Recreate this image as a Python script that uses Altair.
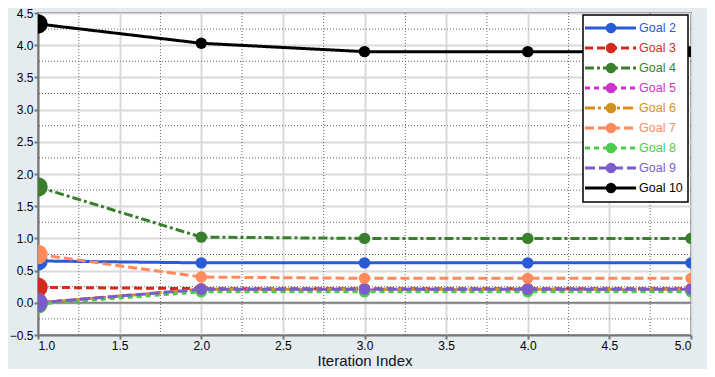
import altair as alt
import pandas as pd

iterations = [1, 2, 3, 4, 5]
names = ["Goal 2", "Goal 3", "Goal 4", "Goal 5", "Goal 6", "Goal 7", "Goal 8", "Goal 9", "Goal 10"]
goal2 = [0.65, 0.62, 0.62, 0.62, 0.62]
goal3 = [0.24, 0.22, 0.22, 0.22, 0.22]
goal4 = [1.80, 1.02, 1.00, 1.00, 1.00]
goal5 = [0.00, 0.20, 0.20, 0.20, 0.20]
goal6 = [0.00, 0.21, 0.21, 0.21, 0.21]
goal7 = [0.75, 0.40, 0.38, 0.38, 0.38]
goal8 = [-0.02, 0.17, 0.17, 0.17, 0.17]
goal9 = [0.00, 0.21, 0.21, 0.21, 0.21]
goal10 = [4.33, 4.03, 3.90, 3.90, 3.90]
series_values = [goal2, goal3, goal4, goal5, goal6, goal7, goal8, goal9, goal10]

colors = ["#2A5BD7", "#D42A1E", "#3A7F2E", "#CC33CC", "#D4901C", "#FF8A5C", "#4CCC4C", "#7B5CCB", "#000000"]
dashes = [[1, 0], [8, 4], [9, 3, 3, 3], [5, 4], [10, 3, 3, 3], [9, 4], [5, 4], [10, 4], [1, 0]]

x_ticks = [1.0, 1.5, 2.0, 2.5, 3.0, 3.5, 4.0, 4.5, 5.0]
y_ticks = [-0.5, 0.0, 0.5, 1.0, 1.5, 2.0, 2.5, 3.0, 3.5, 4.0, 4.5]
x_minor = [1.25, 1.75, 2.25, 2.75, 3.25, 3.75, 4.25, 4.75]
y_minor = [-0.25, 0.25, 0.75, 1.25, 1.75, 2.25, 2.75, 3.25, 3.75, 4.25]
zero_line = [0.0]

rows = []
for name, vals in zip(names, series_values):
    for it, v in zip(iterations, vals):
        rows.append({"series": name, "iteration": it, "value": v})
df = pd.DataFrame(rows)
legend_df = pd.DataFrame({"series": names})

FONT = "Liberation Sans"
xscale = alt.Scale(domain=[1, 5], nice=False, zero=False)
yscale = alt.Scale(domain=[-0.5, 4.5], nice=False, zero=False)
xaxis = alt.Axis(values=x_ticks, format=".1f", title="Iteration Index")
yaxis = alt.Axis(values=y_ticks, format=".1f", title=None)
cscale = alt.Scale(domain=names, range=colors)
dscale = alt.Scale(domain=names, range=dashes)

X = alt.X("iteration:Q", scale=xscale, axis=xaxis)
Y = alt.Y("value:Q", scale=yscale, axis=yaxis)

vminor = alt.Chart(pd.DataFrame({"iteration": x_minor})).mark_rule(
    color="#666666", strokeWidth=1, strokeDash=[1, 2]
).encode(x=alt.X("iteration:Q", scale=xscale, axis=xaxis))

hminor = alt.Chart(pd.DataFrame({"value": y_minor})).mark_rule(
    color="#666666", strokeWidth=1, strokeDash=[1, 2]
).encode(y=alt.Y("value:Q", scale=yscale, axis=yaxis))

zero = alt.Chart(pd.DataFrame({"value": zero_line})).mark_rule(
    color="#808080", strokeWidth=2
).encode(y=alt.Y("value:Q", scale=yscale, axis=yaxis))

lines = alt.Chart(df).mark_line(strokeWidth=3, clip=True).encode(
    x=X, y=Y,
    color=alt.Color("series:N", scale=cscale, legend=None),
    strokeDash=alt.StrokeDash("series:N", scale=dscale, legend=None),
    order=alt.Order("iteration:Q"),
)

points = alt.Chart(df).mark_point(filled=True, opacity=1, clip=True).encode(
    x=X, y=Y,
    color=alt.Color("series:N", scale=cscale, legend=None),
    size=alt.condition("datum.iteration == 1", alt.value(380), alt.value(130)),
)

main = alt.layer(vminor, hminor, zero, lines, points)

# legend box
ly = alt.Y("series:N", scale=alt.Scale(type="point", domain=names, range=[15, 175], padding=0), axis=None)
box = alt.Chart(pd.DataFrame({"a": [0]})).mark_rect(
    fill="white", stroke="black", strokeWidth=1.5
).encode(x=alt.value(545), x2=alt.value(650), y=alt.value(2), y2=alt.value(189))
lrule = alt.Chart(legend_df).mark_rule(strokeWidth=3).encode(
    x=alt.value(547), x2=alt.value(598), y=ly,
    color=alt.Color("series:N", scale=cscale, legend=None),
    strokeDash=alt.StrokeDash("series:N", scale=dscale, legend=None),
)
lpt = alt.Chart(legend_df).mark_point(filled=True, opacity=1, size=110).encode(
    x=alt.value(573), y=ly,
    color=alt.Color("series:N", scale=cscale, legend=None),
)
ltext = alt.Chart(legend_df).mark_text(align="left", baseline="middle", font=FONT, fontSize=12.5).encode(
    x=alt.value(601), y=ly, text="series:N",
    color=alt.Color("series:N", scale=cscale, legend=None),
)
legend = alt.layer(box, lrule, lpt, ltext)

chart = alt.layer(main, legend).resolve_scale(y="independent").properties(
    width=653, height=322,
    padding={"left": 30, "top": 5, "right": 16, "bottom": 34},
    autosize="none",
    background="#E4ECF0",
).configure_view(
    fill="white", stroke="#777777", strokeWidth=2
).configure_axis(
    domainColor="#777777", domainWidth=2,
    tickColor="#777777", tickWidth=2, tickSize=4,
    labelFont=FONT, labelFontSize=12, labelColor="#000000", labelPadding=1,
    grid=True, gridColor="#D9D9D9", gridWidth=2,
    titleFont=FONT, titleFontSize=15, titleFontWeight="normal", titleColor="#111111",
    titlePadding=2,
)

chart.save("out.html", embed_options={"renderer": "svg", "actions": False})
